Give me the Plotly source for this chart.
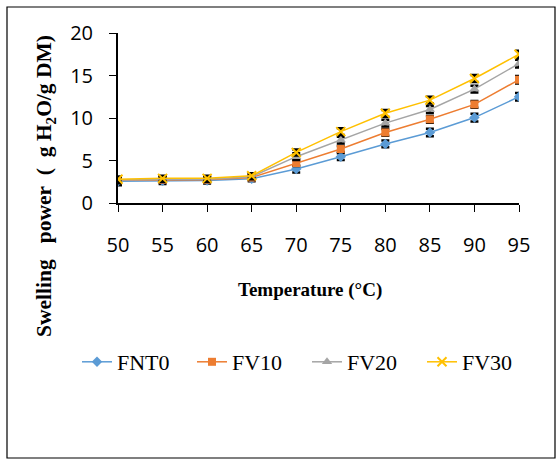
import plotly.graph_objects as go

temperature = [50, 55, 60, 65, 70, 75, 80, 85, 90, 95]
fnt0 = [2.55, 2.6, 2.65, 2.85, 4.0, 5.45, 6.95, 8.3, 10.05, 12.5]
fv10 = [2.7, 2.75, 2.75, 3.0, 4.7, 6.35, 8.3, 9.85, 11.6, 14.5]
fv20 = [2.7, 2.8, 2.8, 3.1, 5.45, 7.4, 9.4, 11.0, 13.4, 16.4]
fv30 = [2.8, 2.9, 2.9, 3.2, 5.95, 8.4, 10.55, 12.1, 14.65, 17.5]
err_fnt0 = [0.45, 0.35, 0.35, 0.3, 0.4, 0.4, 0.4, 0.45, 0.45, 0.45]
err_fv10 = [0.35, 0.3, 0.3, 0.3, 0.35, 0.35, 0.4, 0.4, 0.4, 0.45]
err_fv20 = [0.35, 0.3, 0.3, 0.3, 0.4, 0.4, 0.4, 0.4, 0.4, 0.45]
err_fv30 = [0.3, 0.3, 0.3, 0.3, 0.35, 0.4, 0.4, 0.4, 0.4, 0.4]
series_names = ["FNT0", "FV10", "FV20", "FV30"]
x_title = "<b>Temperature (°C)</b>"
y_title = "<b>Swelling&nbsp;&nbsp; power&nbsp; (&nbsp; g H<sub>2</sub>O/g DM)</b>"

colors = ["#5B9BD5", "#ED7D31", "#A5A5A5", "#FFC000"]
symbols = ["diamond", "square", "triangle-up", "x-thin"]
sizes = [8, 8, 9, 9]

fig = go.Figure()
for name, ys, errs, c, s, sz in zip(series_names, [fnt0, fv10, fv20, fv30],
                                    [err_fnt0, err_fv10, err_fv20, err_fv30],
                                    colors, symbols, sizes):
    marker = dict(symbol=s, size=sz, color=c)
    if s == "x-thin":
        marker["line"] = dict(color=c, width=2)
    fig.add_trace(go.Scatter(
        x=temperature, y=ys, name=name, mode="lines+markers",
        line=dict(color=c, width=1.5),
        marker=marker,
        error_y=dict(type="data", array=errs, visible=True,
                     color="black", thickness=2.5, width=4),
    ))

W, H = 557, 460
L, R, T, B = 118, 38, 33, 257
pw, ph = W - L - R, H - T - B

def px_x(px):
    return (px - L) / pw

def px_y(py):
    return (H - py - B) / ph

fig.update_layout(
    width=W, height=H,
    margin=dict(l=L, r=R, t=T, b=B, autoexpand=False),
    paper_bgcolor="white", plot_bgcolor="white",
    showlegend=True,
    legend=dict(orientation="h", x=px_x(77), xanchor="left",
                y=px_y(362), yanchor="middle",
                font=dict(family="Liberation Serif", size=22, color="black"),
                entrywidth=70, entrywidthmode="pixels",
                itemwidth=30, tracegroupgap=0, bgcolor="rgba(0,0,0,0)"),
    xaxis=dict(range=[50, 95], tickmode="array", tickvals=temperature,
               ticks="outside", ticklen=7, tickwidth=1, tickcolor="black",
               showline=True, linecolor="black", linewidth=2,
               showgrid=False, zeroline=False, automargin=False,
               ticklabelstandoff=16,
               tickfont=dict(family="Open Sans", size=20, color="black")),
    yaxis=dict(range=[0, 20], tickvals=[0, 5, 10, 15, 20],
               ticks="outside", ticklen=7, tickwidth=1, tickcolor="black",
               showline=True, linecolor="black", linewidth=2,
               showgrid=False, zeroline=False, automargin=False,
               ticklabelstandoff=12,
               tickfont=dict(family="Open Sans", size=20, color="black")),
)

fig.add_annotation(text=x_title, xref="paper", yref="paper",
                   x=px_x(310), y=px_y(290), showarrow=False,
                   xanchor="center", yanchor="middle",
                   font=dict(family="Liberation Serif", size=19, color="black"))
fig.add_annotation(text=y_title, xref="paper", yref="paper", textangle=-90,
                   x=px_x(45), y=px_y(186), showarrow=False,
                   xanchor="center", yanchor="middle",
                   font=dict(family="Liberation Serif", size=21.5, color="black"))

fig.add_shape(type="rect", xref="paper", yref="paper",
              x0=px_x(7), x1=px_x(555), y0=px_y(458), y1=px_y(7),
              line=dict(color="black", width=1.2), fillcolor="rgba(0,0,0,0)", layer="below")

fig.write_html("out.html", config={"displayModeBar": False},
               post_script="document.body.style.margin='0px';")
